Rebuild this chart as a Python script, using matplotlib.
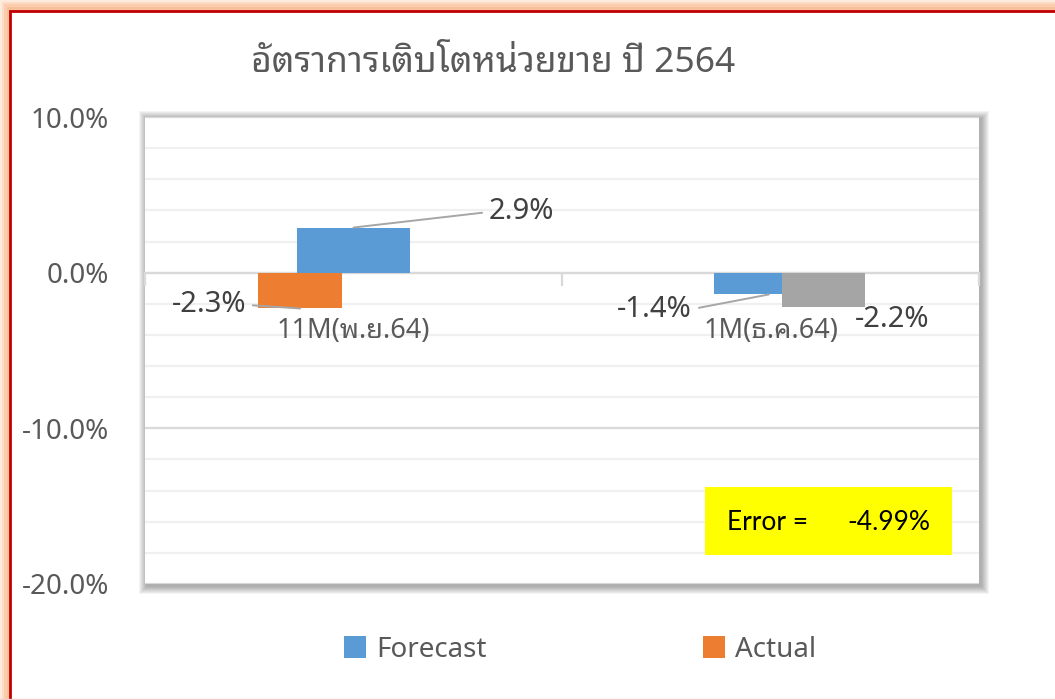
import numpy as np
import matplotlib
matplotlib.use('Agg')
import matplotlib.pyplot as plt
from matplotlib.patches import Rectangle, Patch

# ---- data ----
title = 'อัตราการเติบโตหน่วยขาย ปี 2564'
categories = ['11M(พ.ย.64)', '1M(ธ.ค.64)']
forecast = [2.9, -1.4]
actual = [-2.3, -2.2]
series_names = ['Forecast', 'Actual']
error_pct = -4.99
y_ticks = [10, 0, -10, -20]

# ---- layout / style ----
W, H = 1055, 700
GREY_TXT = '#595959'
BLUE, ORANGE, GREY = '#5B9BD5', '#ED7D31', '#A5A5A5'
actual_colors = [ORANGE, GREY]
fc_offset, fc_width = [0.0, -0.054], [0.271, 0.163]
ac_offset, ac_width = [-0.128, 0.127], [0.2, 0.2]
FONT = ['Noto Sans', 'Noto Sans Thai Looped', 'DejaVu Sans']

plt.rcParams['font.family'] = FONT


def fx(px):
    return px / W


def fy(py):
    return 1 - py / H


fig = plt.figure(figsize=(W / 100, H / 100), dpi=100)
fig.patch.set_facecolor('white')

# outer glow + red frame
for i, c in enumerate(['#FDEBDD', '#FCDCC4', '#FACDAE', '#F8BF98']):
    d = i * 2.2
    fig.add_artist(Rectangle((fx(d), fy(H + 20)), fx(W + 40), (H + 20 - d) / H,
                             transform=fig.transFigure, facecolor=c, edgecolor='none', zorder=-5))
fig.add_artist(Rectangle((fx(10), fy(H + 10)), fx(W + 40), (H + 10 - 11) / H,
                         transform=fig.transFigure, facecolor='white', edgecolor='#C00000',
                         lw=2, zorder=-4))
fig.add_artist(plt.Line2D([0, 1], [fy(699), fy(699)], transform=fig.transFigure,
                          color='#F4CCCC', lw=1, zorder=-3))

# plot area with soft shadow
L, T, R, B = 145, 117, 979, 584
for k in range(1, 9):
    fig.add_artist(Rectangle((fx(L - k + 2), fy(B + k + 2)), fx(R - L + 2 * k), (B - T + 2 * k) / H,
                             transform=fig.transFigure, facecolor='black', edgecolor='none',
                             alpha=0.045, zorder=-2))
ax = fig.add_axes([fx(L), fy(B), fx(R - L), (B - T) / H])
ax.set_facecolor('white')

x = np.arange(len(categories))
ax.bar(x + np.array(fc_offset), forecast, width=fc_width, color=BLUE, zorder=3, label=series_names[0])
ax.bar(x + np.array(ac_offset), actual, width=ac_width, color=actual_colors, zorder=3, label=series_names[1])

ax.set_xlim(-0.5, 1.5)
ax.set_ylim(-20, 10)

# gridlines
ax.set_yticks(y_ticks)
ax.set_yticks(np.arange(-20, 10, 2), minor=True)
ax.yaxis.grid(True, which='minor', color='#F0F0F0', lw=1.6, zorder=0)
ax.yaxis.grid(True, which='major', color='#D9D9D9', lw=1.6, zorder=0)
ax.set_yticklabels([f'{v:.1f}%' for v in y_ticks])
ax.tick_params(axis='y', which='both', length=0, pad=26, labelsize=20, labelcolor=GREY_TXT)

# category axis sits on zero
for s in ['top', 'right', 'left']:
    ax.spines[s].set_visible(False)
ax.spines['bottom'].set_position(('data', 0))
ax.spines['bottom'].set_color('#D9D9D9')
ax.spines['bottom'].set_linewidth(1.6)
ax.set_xticks(x)
ax.set_xticklabels([])
ax.set_xticks([-0.5, 0.5, 1.5], minor=True)
ax.tick_params(axis='x', which='major', length=0)
ax.tick_params(axis='x', which='minor', length=9, width=1.6, color='#D9D9D9', direction='out')

# category labels drawn above the gridlines
for xi, cat in zip(x, categories):
    ax.annotate(cat, xy=(xi, 0), xytext=(0, -42), textcoords='offset points',
                ha='center', va='center', fontsize=19.5, color=GREY_TXT, zorder=6)

# data labels
lbl_kw = dict(fontsize=21, color='#404040', textcoords='data', va='center', zorder=6)
line_kw = dict(arrowstyle='-', color='#A6A6A6', lw=1.4, shrinkA=3, shrinkB=0)
ax.annotate(f'{forecast[0]:.1f}%', xy=(x[0] + fc_offset[0], forecast[0]), xytext=(0.325, 3.9),
            ha='left', arrowprops=dict(line_kw, relpos=(0, 0.5)), **lbl_kw)
ax.annotate(f'{actual[0]:.1f}%', xy=(x[0] + ac_offset[0], actual[0]), xytext=(-0.258, -2.07),
            ha='right', arrowprops=dict(line_kw, relpos=(1, 0.5)), **lbl_kw)
ax.annotate(f'{forecast[1]:.1f}%', xy=(x[1] + fc_offset[1] + 0.05, forecast[1]), xytext=(0.812, -2.34),
            ha='right', arrowprops=dict(line_kw, relpos=(1, 0.5)), **lbl_kw)
ax.annotate(f'{actual[1]:.1f}%', xy=(x[1] + ac_offset[1], actual[1]), xytext=(1.203, -2.98),
            ha='left', **lbl_kw)

# title
fig.text(fx(493), fy(63), title, ha='center', va='center', fontsize=25.5, color=GREY_TXT,
         family=['Noto Sans Thai Looped', 'Noto Sans'])

# legend
handles = [Patch(facecolor=BLUE), Patch(facecolor=ORANGE)]
fig.legend(handles, series_names, loc='center', bbox_to_anchor=(fx(580), fy(650)), ncol=2,
           frameon=False, fontsize=20, labelcolor=GREY_TXT, handlelength=0.8, handleheight=0.85,
           handletextpad=0.35, columnspacing=7.8)

# error box
fig.add_artist(Rectangle((fx(705), fy(555)), fx(952 - 705), (555 - 487) / H,
                         transform=fig.transFigure, facecolor='#FFFF00', edgecolor='none', zorder=5))
fig.text(fx(727), fy(522), 'Error =', ha='left', va='center', fontsize=19, color='black',
         family='Lato', zorder=6)
fig.text(fx(930), fy(522), f'{error_pct:.2f}%', ha='right', va='center', fontsize=19,
         color='black', family='Lato', zorder=6)

fig.savefig('out.png', dpi=100)
